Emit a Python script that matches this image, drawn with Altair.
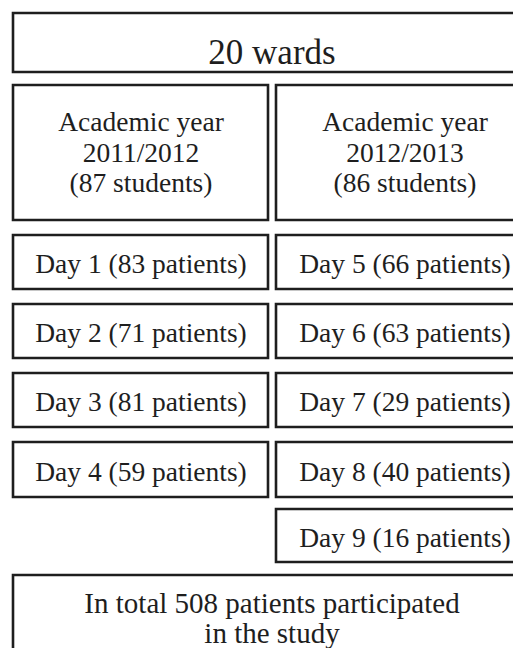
import altair as alt
import pandas as pd

# ---- data ----
wards = 20
years = ["2011/2012", "2012/2013"]
students = [87, 86]
days = [1, 2, 3, 4, 5, 6, 7, 8, 9]
patients = [83, 71, 81, 59, 66, 63, 29, 40, 16]
total_patients = 508

# ---- layout (page-pixel coordinate system) ----
W, H = 505, 640
cols = {"full": (13, 534), "left": (13, 268), "right": (276, 534)}
text_x = {"full": 272, "left": 141, "right": 405}
top_row = (13, 72)
year_row = (85, 220)
day_rows = [(235, 289), (304, 358), (373, 427), (442, 497), (509, 562)]
total_row = (575, 700)

boxes = []
def add(label, col, row, first_base, fs, lh):
    boxes.append(dict(label=label, col=col, y1=row[0], y2=row[1],
                      base=first_base, fs=fs, lh=lh))

add(f"{wards} wards", "full", top_row, 64, 35, 0)
for i, (yr, st) in enumerate(zip(years, students)):
    add(f"Academic year\n{yr}\n({st} students)", ["left", "right"][i],
        year_row, 131, 27.5, 30.5)
for d, p in zip(days, patients):
    col = "left" if d <= 4 else "right"
    r = day_rows[d - 1] if d <= 4 else day_rows[d - 5]
    add(f"Day {d} ({p} patients)", col, r, (r[0] + r[1]) / 2 + 11, 27.5, 0)
add(f"In total {total_patients} patients participated\nin the study", "full",
    total_row, 613, 29, 30)

rect_rows, text_rows = [], []
for b in boxes:
    x1, x2 = cols[b["col"]]
    rect_rows.append(dict(x1=x1, x2=x2, y1=b["y1"], y2=b["y2"]))
    for k, line in enumerate(b["label"].split("\n")):
        text_rows.append(dict(tx=text_x[b["col"]], ty=b["base"] + k * b["lh"],
                              t=line, fs=b["fs"]))

rdf = pd.DataFrame(rect_rows)
tdf = pd.DataFrame(text_rows)

xs = alt.Scale(domain=[8, 8 + W], zero=False, nice=False)
ys = alt.Scale(domain=[8 + H, 8], zero=False, nice=False)

rects = alt.Chart(rdf).mark_rect(
    fill="white", stroke="#1e1e1e", strokeWidth=2.6, clip=True
).encode(
    x=alt.X("x1:Q", scale=xs, axis=None),
    x2="x2:Q",
    y=alt.Y("y1:Q", scale=ys, axis=None),
    y2="y2:Q",
)

texts = alt.Chart(tdf).mark_text(
    font="Liberation Serif, Times New Roman, DejaVu Serif, serif",
    align="center", baseline="alphabetic",
    color="#1e1e1e", clip=True
).encode(
    x=alt.X("tx:Q", scale=xs, axis=None),
    y=alt.Y("ty:Q", scale=ys, axis=None),
    text="t:N",
    size=alt.Size("fs:Q", scale=None, legend=None),
)

chart = alt.layer(rects, texts).properties(
    width=W, height=H, padding=0, autosize="none", background="white"
).configure_view(stroke=None)

chart.save("out.html", embed_options={"renderer": "svg", "actions": False})
